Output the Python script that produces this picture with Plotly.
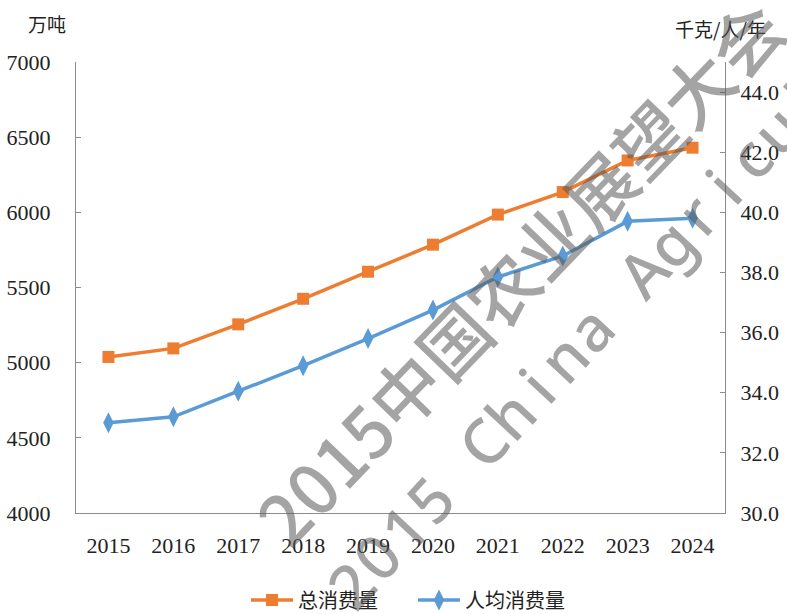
import math
import plotly.graph_objects as go

years = ["2015", "2016", "2017", "2018", "2019", "2020", "2021", "2022", "2023", "2024"]
total_consumption = [5038, 5095, 5255, 5425, 5605, 5785, 5985, 6135, 6345, 6430]
per_capita = [33.0, 33.2, 34.05, 34.9, 35.8, 36.75, 37.85, 38.55, 39.7, 39.8]

series_names = ["总消费量", "人均消费量"]
left_unit = "万吨"
right_unit = "千克/人/年"
left_ticks = [4000, 4500, 5000, 5500, 6000, 6500, 7000]
right_ticks = [30, 32, 34, 36, 38, 40, 42, 44]
watermark_cn = "2015中国农业展望大会"
watermark_en = "2015 China Agricultural"

ORANGE = "#ED7D31"
BLUE = "#5B9BD5"
AXIS = "#8C8C8C"
WM = "rgba(90,90,90,0.55)"
NUM_FONT = "Liberation Serif, serif"
CJK_FONT = "Noto Sans CJK SC, sans-serif"

W, H = 787, 614
ML, MR, MT, MB = 76, 62, 62, 101
PW, PH = W - ML - MR, H - MT - MB


def to_paper(px, py):
    return (px - ML) / PW, (H - MB - py) / PH


fig = go.Figure()
fig.add_trace(go.Scatter(
    x=years, y=total_consumption, name=series_names[0], mode="lines+markers",
    line=dict(color=ORANGE, width=3.5),
    marker=dict(symbol="square", size=12, color=ORANGE),
    yaxis="y",
))
fig.add_trace(go.Scatter(
    x=years, y=per_capita, name=series_names[1], mode="lines+markers",
    line=dict(color=BLUE, width=3.5),
    marker=dict(symbol="diamond-tall", size=15, color=BLUE),
    yaxis="y2",
))

annotations = [
    dict(text=left_unit, xref="paper", yref="paper", x=to_paper(47, 0)[0], y=to_paper(0, 23)[1],
         xanchor="center", yanchor="middle", showarrow=False,
         font=dict(family=CJK_FONT, size=19, color="#222")),
    dict(text=right_unit, xref="paper", yref="paper", x=to_paper(720, 0)[0], y=to_paper(0, 29)[1],
         xanchor="center", yanchor="middle", showarrow=False,
         font=dict(family=CJK_FONT, size=19, color="#222")),
]

# watermark line 1
cx, cy = to_paper(518, 270)
annotations.append(dict(text=watermark_cn, xref="paper", yref="paper", x=cx, y=cy,
                        xanchor="center", yanchor="middle", showarrow=False, textangle=-46,
                        font=dict(family=CJK_FONT, size=70, color=WM, weight=500)))

# watermark line 2 (letter-spaced)
ang = math.radians(47)
sx, sy = 350, 585
step = 39
for i, ch in enumerate(watermark_en):
    if ch == " ":
        continue
    px = sx + i * step * math.cos(ang)
    py = sy - i * step * math.sin(ang)
    if px > W + 40:
        break
    ax, ay = to_paper(px, py)
    annotations.append(dict(text=ch, xref="paper", yref="paper", x=ax, y=ay,
                            xanchor="center", yanchor="middle", showarrow=False, textangle=-47,
                            font=dict(family="Noto Sans, sans-serif", size=62, color=WM, weight=500)))

fig.update_layout(
    width=W, height=H,
    margin=dict(l=ML, r=MR, t=MT, b=MB, autoexpand=False),
    paper_bgcolor="white", plot_bgcolor="white",
    showlegend=True,
    legend=dict(orientation="h", x=to_paper(413, 0)[0], xanchor="center", y=to_paper(0, 600)[1],
                yanchor="middle", font=dict(family=CJK_FONT, size=20, color="#222"),
                itemwidth=42, entrywidth=110, entrywidthmode="pixels", traceorder="normal"),
    xaxis=dict(type="category", range=[-0.5, 9.5], showgrid=False, automargin=False,
               showline=True, linecolor=AXIS, linewidth=1.2, ticks="",
               tickfont=dict(family=NUM_FONT, size=22, color="#222"),
               ticklabelstandoff=12),
    yaxis=dict(range=[4000, 7000], tickvals=left_ticks, showgrid=False, automargin=False,
               showline=True, linecolor=AXIS, linewidth=1.2,
               ticks="inside", ticklen=5, tickcolor=AXIS,
               tickfont=dict(family=NUM_FONT, size=22, color="#222"),
               ticklabelstandoff=20, zeroline=False),
    yaxis2=dict(range=[30, 45], tickvals=right_ticks, tickformat=".1f", automargin=False,
                overlaying="y", side="right", showgrid=False,
                showline=True, linecolor=AXIS, linewidth=1.2,
                ticks="inside", ticklen=5, tickcolor=AXIS,
                tickfont=dict(family=NUM_FONT, size=22, color="#222"),
                ticklabelstandoff=10, zeroline=False),
    annotations=annotations,
)

fig.write_html("out.html", config={"displayModeBar": False},
               post_script="document.body.style.margin='0';")
